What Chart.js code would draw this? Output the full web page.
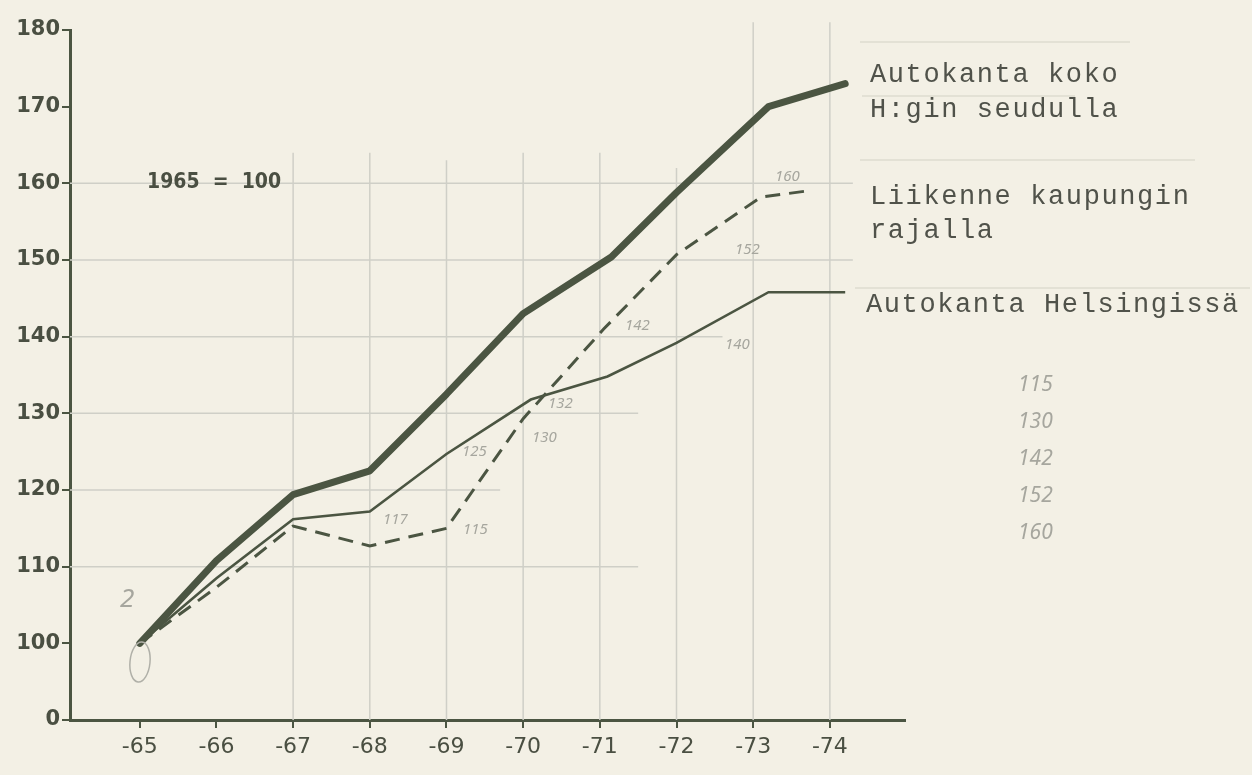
<!DOCTYPE html>
<html>
<head>
<meta charset="utf-8">
<script src="https://cdn.jsdelivr.net/npm/chart.js@4.4.1/dist/chart.umd.min.js"></script>
<style>
  html, body { margin: 0; padding: 0; background: #f3f0e5; }
  #wrap { width: 1252px; height: 775px; }
</style>
</head>
<body>
<div id="wrap"><canvas id="chart" width="1252" height="775"></canvas></div>
<script>
// years as drawn (-65 ... -74), values as index 1965 = 100
const yearTicks = [65, 66, 67, 68, 69, 70, 71, 72, 73, 74];
const valueTicks = [90, 100, 110, 120, 130, 140, 150, 160, 170, 180]; // 90 is the broken-axis "0"

const seutuYears  = [65, 66, 67, 68, 69, 70, 71.15, 72, 73.2, 74.2];
const seutuValues = [100, 110.8, 119.4, 122.5, 132.5, 143, 150.4, 158.8, 170, 173];

const rajaYears  = [65, 66, 67, 68, 69, 70, 71.05, 72, 73.1, 73.7];
const rajaValues = [100, 107.3, 115.3, 112.7, 115, 129.3, 141, 150.7, 158.2, 159];

const hkiYears  = [65, 66, 67, 68, 69, 70.1, 71.1, 72, 73.2, 74.2];
const hkiValues = [100, 108.5, 116.2, 117.2, 124.7, 131.8, 134.8, 139.2, 145.8, 145.8];

const seriesLabels = ['Autokanta koko H:gin seudulla', 'Liikenne kaupungin rajalla', 'Autokanta Helsingissä'];

// hand-ruled grid: horizontal lines [value, last year], vertical lines [year, top value]
const hRules = [[160, 74.3], [150, 74.3], [140, 72.6], [130, 71.5], [120, 69.7], [110, 71.5]];
const vRules = [[67, 164], [68, 164], [69, 163], [70, 164], [71, 164], [72, 162], [73, 181], [74, 181]];

const ink = '#4b5542';
const pts = (xs, ys) => xs.map((x, i) => ({ x: x, y: ys[i] }));

const paperGrid = {
  id: 'paperGrid',
  beforeDatasetsDraw(chart) {
    const ctx = chart.ctx, x = chart.scales.x, y = chart.scales.y;
    ctx.save();
    ctx.strokeStyle = '#cfcfc7';
    ctx.lineWidth = 1.5;
    hRules.forEach(r => {
      ctx.beginPath();
      ctx.moveTo(x.left, y.getPixelForValue(r[0]));
      ctx.lineTo(x.getPixelForValue(r[1]), y.getPixelForValue(r[0]));
      ctx.stroke();
    });
    vRules.forEach(r => {
      ctx.beginPath();
      ctx.moveTo(x.getPixelForValue(r[0]), y.getPixelForValue(r[1]));
      ctx.lineTo(x.getPixelForValue(r[0]), y.bottom);
      ctx.stroke();
    });
    ctx.restore();
  }
};

const notes = {
  id: 'notes',
  afterDraw(chart) {
    const ctx = chart.ctx;
    ctx.save();
    // typewritten legend text
    ctx.fillStyle = '#50524a';
    ctx.font = '27px "Liberation Mono", monospace';
    ctx.letterSpacing = '1.6px';
    ctx.textBaseline = 'middle';
    ctx.fillText('Autokanta koko', 870, 75);
    ctx.fillText('H:gin seudulla', 870, 110);
    ctx.fillText('Liikenne kaupungin', 870, 197);
    ctx.fillText('rajalla', 870, 231);
    ctx.fillText('Autokanta Helsingissä', 866, 305);
    ctx.letterSpacing = '0px';
    // faint rules near the legend
    ctx.strokeStyle = '#d3d1c6';
    ctx.lineWidth = 1.2;
    [[860, 42, 1130], [862, 96, 1075], [860, 160, 1195], [855, 288, 1250]].forEach(r => {
      ctx.beginPath(); ctx.moveTo(r[0], r[1]); ctx.lineTo(r[2], r[1]); ctx.stroke();
    });
    // base note
    ctx.fillStyle = '#4a4f42';
    ctx.font = 'bold 21px "DejaVu Sans Condensed", sans-serif';
    ctx.fillText('1965  =  100', 147, 183);
    // pencil notes
    ctx.fillStyle = '#a6a69e';
    ctx.font = 'italic 15px "Noto Sans", sans-serif';
    [['160', 775, 177], ['152', 735, 250], ['142', 625, 326], ['140', 725, 345],
     ['132', 548, 404], ['130', 532, 438], ['125', 462, 452], ['115', 463, 530], ['117', 383, 520]]
      .forEach(n => ctx.fillText(n[0], n[1], n[2]));
    ctx.font = 'italic 21px "Noto Sans", sans-serif';
    ['115', '130', '142', '152', '160'].forEach((t, i) => ctx.fillText(t, 1018, 385 + i * 37));
    ctx.font = 'italic 26px "Noto Sans", sans-serif';
    ctx.fillText('2', 120, 600);
    ctx.strokeStyle = '#b0b0a8';
    ctx.lineWidth = 1.5;
    ctx.beginPath(); ctx.ellipse(140, 662, 10, 20, 0.1, 0, Math.PI * 2); ctx.stroke();
    ctx.restore();
  }
};

new Chart(document.getElementById('chart'), {
  type: 'line',
  data: {
    datasets: [
      {
        label: seriesLabels[0],
        data: pts(seutuYears, seutuValues),
        borderColor: ink,
        borderWidth: 7,
        borderCapStyle: 'round',
        borderJoinStyle: 'round',
        pointRadius: 0
      },
      {
        label: seriesLabels[1],
        data: pts(rajaYears, rajaValues),
        borderColor: ink,
        borderWidth: 3,
        borderDash: [15, 9],
        pointRadius: 0
      },
      {
        label: seriesLabels[2],
        data: pts(hkiYears, hkiValues),
        borderColor: ink,
        borderWidth: 2.6,
        pointRadius: 0
      }
    ]
  },
  options: {
    responsive: false,
    animation: false,
    layout: { padding: { left: 0, right: 347, top: 30, bottom: 0 } },
    plugins: { legend: { display: false }, tooltip: { enabled: false } },
    scales: {
      x: {
        type: 'linear',
        min: 64.09,
        max: 74.98,
        afterBuildTicks: s => { s.ticks = yearTicks.map(v => ({ value: v })); },
        afterFit: s => { s.height = 55; },
        border: { color: ink, width: 3 },
        grid: { drawOnChartArea: false, tickColor: ink, tickLength: 8, lineWidth: 2 },
        ticks: {
          color: '#4a4f42',
          font: { family: '"DejaVu Sans", sans-serif', size: 22 },
          padding: 6,
          callback: v => '-' + v
        }
      },
      y: {
        min: 90,
        max: 180,
        afterBuildTicks: s => { s.ticks = valueTicks.map(v => ({ value: v })); },
        afterFit: s => { s.width = 70; },
        border: { color: ink, width: 3 },
        grid: { drawOnChartArea: false, tickColor: ink, tickLength: 8, lineWidth: 2 },
        ticks: {
          color: '#4a4f42',
          font: { family: '"DejaVu Sans", sans-serif', size: 21, weight: 'bold' },
          padding: 2,
          callback: v => v === 90 ? '0' : String(v)
        }
      }
    }
  },
  plugins: [paperGrid, notes]
});
</script>
</body>
</html>
